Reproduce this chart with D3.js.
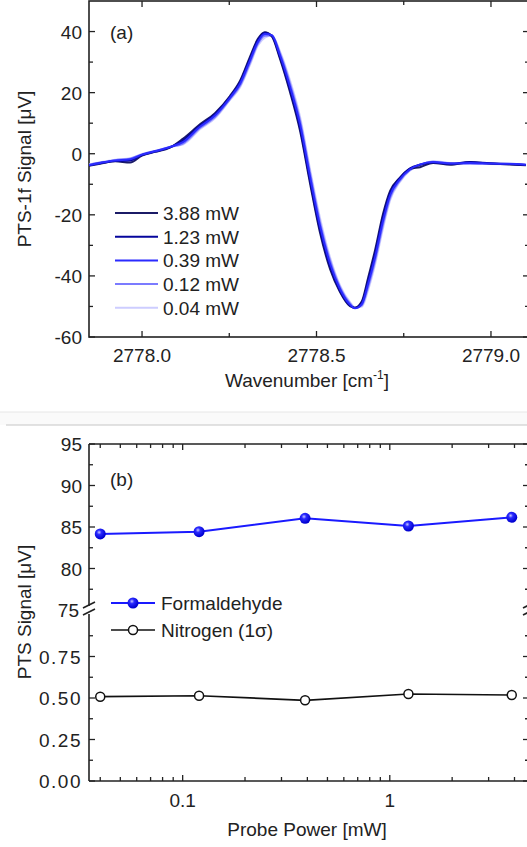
<!DOCTYPE html>
<html>
<head>
    <script src="https://d3js.org/d3.v7.min.js"></script>
    <style>
        body { margin: 0; background: #fff; }
        svg { display: block; font-family: 'Liberation Sans', Arial, sans-serif; }
        .tick-label { font-size: 19px; fill: #222; }
        .title { font-size: 19px; fill: #222; }
    </style>
</head>
<body>
<svg id="chart" width="527" height="847"></svg>
<script>
// ---- panel (a) data: PTS-1f spectra at several probe powers ----
const wavenumber = [2777.848, 2777.880, 2777.923, 2777.966, 2778.000, 2778.037, 2778.080, 2778.117,
    2778.166, 2778.209, 2778.252, 2778.281, 2778.309, 2778.332, 2778.352, 2778.372, 2778.395,
    2778.424, 2778.453, 2778.481, 2778.510, 2778.539, 2778.567, 2778.596, 2778.610, 2778.630,
    2778.648, 2778.668, 2778.691, 2778.711, 2778.739, 2778.768, 2778.797, 2778.834, 2778.883,
    2778.940, 2778.997, 2779.054, 2779.100];
const sig388 = [-3.9, -3.3, -2.5, -2.9, -0.6, 0.6, 2.0, 4.9, 9.6, 13.3, 18.9, 23.9, 31.6, 37.6, 39.8,
    38.4, 31.2, 20.2, 7.4, -9.4, -25.8, -37.8, -45.2, -49.9, -50.4, -48.3, -40.6, -31.5, -19.6,
    -12.2, -7.8, -5.0, -4.4, -3.0, -3.6, -2.8, -3.2, -3.5, -3.8];
const sig123 = [-3.8, -3.1, -2.4, -2.2, -0.4, 0.7, 2.1, 4.3, 9.2, 12.9, 18.6, 23.4, 31.0, 37.2, 39.6,
    38.6, 31.8, 21.0, 8.4, -8.4, -24.8, -37.0, -44.8, -49.7, -50.5, -48.8, -41.6, -32.6, -20.6,
    -12.8, -8.0, -4.8, -3.6, -2.9, -3.3, -2.7, -3.1, -3.4, -3.7];
const sig039 = [-3.7, -3.0, -2.2, -1.8, -0.3, 0.8, 2.2, 3.8, 8.8, 12.5, 18.3, 22.9, 30.4, 36.6, 39.2,
    38.8, 32.4, 22.0, 9.6, -7.2, -23.6, -36.0, -44.2, -49.4, -50.6, -49.2, -42.6, -33.8, -21.8,
    -13.6, -8.4, -5.1, -3.5, -2.7, -3.2, -3.0, -3.2, -3.3, -3.6];
const sig012 = [-3.6, -2.9, -2.1, -1.6, -0.2, 0.9, 2.2, 3.3, 8.4, 12.0, 17.9, 22.3, 29.7, 36.0, 38.6,
    38.8, 33.0, 23.0, 10.8, -6.0, -22.4, -35.0, -43.6, -49.0, -50.5, -49.6, -43.6, -35.0, -23.0,
    -14.4, -8.8, -5.3, -3.6, -2.6, -3.1, -3.2, -3.3, -3.4, -3.6];
const sig004 = [-3.5, -2.8, -2.0, -1.5, -0.1, 0.9, 2.3, 3.0, 8.0, 11.6, 17.6, 21.8, 29.0, 35.4, 38.0,
    38.7, 33.6, 24.0, 12.0, -4.8, -21.0, -34.0, -43.0, -48.6, -50.3, -50.0, -44.6, -36.2, -24.2,
    -15.2, -9.2, -5.5, -3.8, -2.5, -3.0, -3.4, -3.4, -3.5, -3.7];
const traceLabels = ["3.88 mW", "1.23 mW", "0.39 mW", "0.12 mW", "0.04 mW"];
const traceColors = ["#1b1b66", "#05059c", "#2b2bff", "#7b7bff", "#cdcdff"];
const traceValues = [sig388, sig123, sig039, sig012, sig004];

// ---- panel (b) data: PTS signal vs probe power ----
const probePower = [0.04, 0.12, 0.39, 1.23, 3.88];
const formaldehyde = [84.16, 84.43, 86.05, 85.12, 86.17];
const nitrogen = [0.508, 0.514, 0.486, 0.524, 0.518];

const svg = d3.select("#chart");
const axisColor = "#222";

// separator between the two panels
svg.append("rect").attr("x", 0).attr("y", 412).attr("width", 527).attr("height", 13).attr("fill", "#fafafa");
svg.append("line").attr("x1", 0).attr("x2", 527).attr("y1", 412).attr("y2", 412).attr("stroke", "#e6e6e6");
svg.append("line").attr("x1", 6).attr("x2", 527).attr("y1", 425).attr("y2", 425).attr("stroke", "#c6c6c6").attr("stroke-width", 1.2);

function drawTicks(g, scale, values, orient, len, pos) {
    // inward tick marks on one side of the frame
    values.forEach(v => {
        const p = scale(v);
        if (orient === "bottom") g.append("line").attr("x1", p).attr("x2", p).attr("y1", pos).attr("y2", pos - len);
        if (orient === "top") g.append("line").attr("x1", p).attr("x2", p).attr("y1", pos).attr("y2", pos + len);
        if (orient === "left") g.append("line").attr("y1", p).attr("y2", p).attr("x1", pos).attr("x2", pos + len);
        if (orient === "right") g.append("line").attr("y1", p).attr("y2", p).attr("x1", pos).attr("x2", pos - len);
    });
}

// ================= panel (a) =================
const a = { left: 89, right: 529, top: 1, bottom: 337 };
const xA = d3.scaleLinear().domain([2777.848, 2779.109]).range([a.left, a.right]);
const yA = d3.scaleLinear().domain([-60, 50]).range([a.bottom, a.top]);

const gA = svg.append("g");
const tA = gA.append("g").attr("stroke", axisColor).attr("stroke-width", 1.3);
const xMajA = [2778.0, 2778.5, 2779.0], xMinA = [2778.25, 2778.75];
const yMajA = [-60, -40, -20, 0, 20, 40], yMinA = [-50, -30, -10, 10, 30];
drawTicks(tA, xA, xMajA, "bottom", 6, a.bottom);
drawTicks(tA, xA, xMinA, "bottom", 4, a.bottom);
drawTicks(tA, xA, xMajA, "top", 6, a.top);
drawTicks(tA, xA, xMinA, "top", 4, a.top);
drawTicks(tA, yA, yMajA, "left", 6, a.left);
drawTicks(tA, yA, yMinA, "left", 4, a.left);
drawTicks(tA, yA, yMajA, "right", 6, a.right);
drawTicks(tA, yA, yMinA, "right", 4, a.right);
gA.append("rect").attr("x", a.left).attr("y", a.top).attr("width", a.right - a.left).attr("height", a.bottom - a.top)
    .attr("fill", "none").attr("stroke", axisColor).attr("stroke-width", 1.6);

gA.selectAll(".xl").data(xMajA).join("text").attr("class", "tick-label")
    .attr("x", d => xA(d)).attr("y", a.bottom + 25).attr("text-anchor", "middle").text(d => d.toFixed(1));
gA.selectAll(".yl").data(yMajA).join("text").attr("class", "tick-label")
    .attr("x", a.left - 7).attr("y", d => yA(d) + 7).attr("text-anchor", "end").text(d => d);

const lineA = d3.line().x((d, i) => xA(wavenumber[i])).y(d => yA(d)).curve(d3.curveMonotoneX);
const clipA = svg.append("clipPath").attr("id", "clipA").append("rect")
    .attr("x", a.left).attr("y", a.top).attr("width", a.right - a.left).attr("height", a.bottom - a.top);
const drawOrder = [4, 3, 0, 1, 2];
gA.append("g").attr("clip-path", "url(#clipA)").selectAll("path").data(drawOrder).join("path")
    .attr("d", i => lineA(traceValues[i])).attr("fill", "none")
    .attr("stroke", i => traceColors[i]).attr("stroke-width", 2).attr("stroke-linejoin", "round");

gA.append("text").attr("class", "title").attr("x", 110).attr("y", 39).text("(a)");

const legA = gA.append("g");
traceLabels.forEach((lab, i) => {
    const y = 213 + i * 23.7;
    legA.append("line").attr("x1", 115).attr("x2", 158).attr("y1", y).attr("y2", y)
        .attr("stroke", traceColors[i]).attr("stroke-width", 2);
    legA.append("text").attr("class", "title").attr("x", 163).attr("y", y + 7).text(lab);
});

const xtA = gA.append("text").attr("class", "title").attr("x", 307).attr("y", 387).attr("text-anchor", "middle");
xtA.append("tspan").text("Wavenumber [cm");
xtA.append("tspan").attr("dy", -8).attr("font-size", 12).text("-1");
xtA.append("tspan").attr("dy", 8).text("]");
gA.append("text").attr("class", "title").attr("transform", "translate(31,169) rotate(-90)")
    .attr("text-anchor", "middle").text("PTS-1f Signal [\u03bcV]");

// ================= panel (b) =================
const b = { left: 89, right: 529, top: 444, bottom: 781 };
const xB = d3.scaleLog().domain([0.0353, 4.7]).range([b.left, b.right]);
const yHi = d3.scaleLinear().domain([75, 95]).range([610, b.top]);
const yLo = d3.scaleLinear().domain([0, 1]).range([b.bottom, 615]);

const gB = svg.append("g");
const tB = gB.append("g").attr("stroke", axisColor).attr("stroke-width", 1.3);
const xMajB = [0.1, 1];
const xMinB = [0.04, 0.05, 0.06, 0.07, 0.08, 0.09, 0.2, 0.3, 0.4, 0.5, 0.6, 0.7, 0.8, 0.9, 2, 3, 4];
drawTicks(tB, xB, xMajB, "bottom", 6, b.bottom);
drawTicks(tB, xB, xMinB, "bottom", 4, b.bottom);
drawTicks(tB, xB, xMajB, "top", 6, b.top);
drawTicks(tB, xB, xMinB, "top", 4, b.top);
const yHiMaj = [80, 85, 90, 95], yHiMin = [77.5, 82.5, 87.5, 92.5];
const yLoMaj = [0, 0.25, 0.5, 0.75], yLoMin = [0.125, 0.375, 0.625, 0.875];
[["left", b.left], ["right", b.right]].forEach(([o, p]) => {
    drawTicks(tB, yHi, yHiMaj, o, 6, p);
    drawTicks(tB, yHi, yHiMin, o, 4, p);
    drawTicks(tB, yLo, yLoMaj, o, 6, p);
    drawTicks(tB, yLo, yLoMin, o, 4, p);
});
const frame = gB.append("g").attr("stroke", axisColor).attr("stroke-width", 1.6).attr("fill", "none");
frame.append("line").attr("x1", b.left).attr("x2", b.right).attr("y1", b.top).attr("y2", b.top);
frame.append("line").attr("x1", b.left).attr("x2", b.right).attr("y1", b.bottom).attr("y2", b.bottom);
[b.left, b.right].forEach(x => {
    frame.append("line").attr("x1", x).attr("x2", x).attr("y1", b.top).attr("y2", 606);
    frame.append("line").attr("x1", x).attr("x2", x).attr("y1", 614).attr("y2", b.bottom);
    // axis break marks
    frame.append("line").attr("x1", x - 6).attr("x2", x + 6).attr("y1", 608).attr("y2", 602);
    frame.append("line").attr("x1", x - 6).attr("x2", x + 6).attr("y1", 615).attr("y2", 609);
});

gB.selectAll(".xl").data(xMajB).join("text").attr("class", "tick-label")
    .attr("x", d => xB(d)).attr("y", b.bottom + 26).attr("text-anchor", "middle").text(d => d);
gB.selectAll(".yh").data([75, 80, 85, 90, 95]).join("text").attr("class", "tick-label")
    .attr("x", d => d === 75 ? b.left - 10 : b.left - 7).attr("y", d => yHi(d) + 7).attr("text-anchor", "end").text(d => d);
gB.selectAll(".yo").data(yLoMaj).join("text").attr("class", "tick-label")
    .attr("x", b.left - 7).attr("y", d => yLo(d) + 7).attr("text-anchor", "end")
    .attr("letter-spacing", 1.5).text(d => d.toFixed(2));

const defs = svg.append("defs");
const grad = defs.append("radialGradient").attr("id", "ball").attr("cx", "40%").attr("cy", "35%").attr("r", "60%");
grad.append("stop").attr("offset", "0%").attr("stop-color", "#c8c8ff");
grad.append("stop").attr("offset", "35%").attr("stop-color", "#2a2aff");
grad.append("stop").attr("offset", "100%").attr("stop-color", "#0000d0");

const lineF = d3.line().x((d, i) => xB(probePower[i])).y(d => yHi(d));
const lineN = d3.line().x((d, i) => xB(probePower[i])).y(d => yLo(d));
gB.append("path").attr("d", lineF(formaldehyde)).attr("fill", "none").attr("stroke", "#1a1aff").attr("stroke-width", 2);
gB.append("path").attr("d", lineN(nitrogen)).attr("fill", "none").attr("stroke", "#111").attr("stroke-width", 1.6);
gB.selectAll(".pf").data(formaldehyde).join("circle")
    .attr("cx", (d, i) => xB(probePower[i])).attr("cy", d => yHi(d)).attr("r", 5.5).attr("fill", "url(#ball)");
gB.selectAll(".pn").data(nitrogen).join("circle")
    .attr("cx", (d, i) => xB(probePower[i])).attr("cy", d => yLo(d)).attr("r", 4.5)
    .attr("fill", "#fff").attr("stroke", "#111").attr("stroke-width", 1.5);

gB.append("text").attr("class", "title").attr("x", 110).attr("y", 486).text("(b)");

// legend (b)
gB.append("line").attr("x1", 111).attr("x2", 155).attr("y1", 603).attr("y2", 603).attr("stroke", "#1a1aff").attr("stroke-width", 2);
gB.append("circle").attr("cx", 133).attr("cy", 603).attr("r", 5.5).attr("fill", "url(#ball)");
gB.append("text").attr("class", "title").attr("x", 161).attr("y", 610).text("Formaldehyde");
gB.append("line").attr("x1", 111).attr("x2", 155).attr("y1", 630).attr("y2", 630).attr("stroke", "#111").attr("stroke-width", 1.6);
gB.append("circle").attr("cx", 133).attr("cy", 630).attr("r", 4.5).attr("fill", "#fff").attr("stroke", "#111").attr("stroke-width", 1.5);
gB.append("text").attr("class", "title").attr("x", 161).attr("y", 637).text("Nitrogen (1\u03c3)");

gB.append("text").attr("class", "title").attr("x", 307).attr("y", 836).attr("text-anchor", "middle").text("Probe Power [mW]");
gB.append("text").attr("class", "title").attr("transform", "translate(31,612) rotate(-90)")
    .attr("text-anchor", "middle").text("PTS Signal [\u03bcV]");
</script>
</body>
</html>
